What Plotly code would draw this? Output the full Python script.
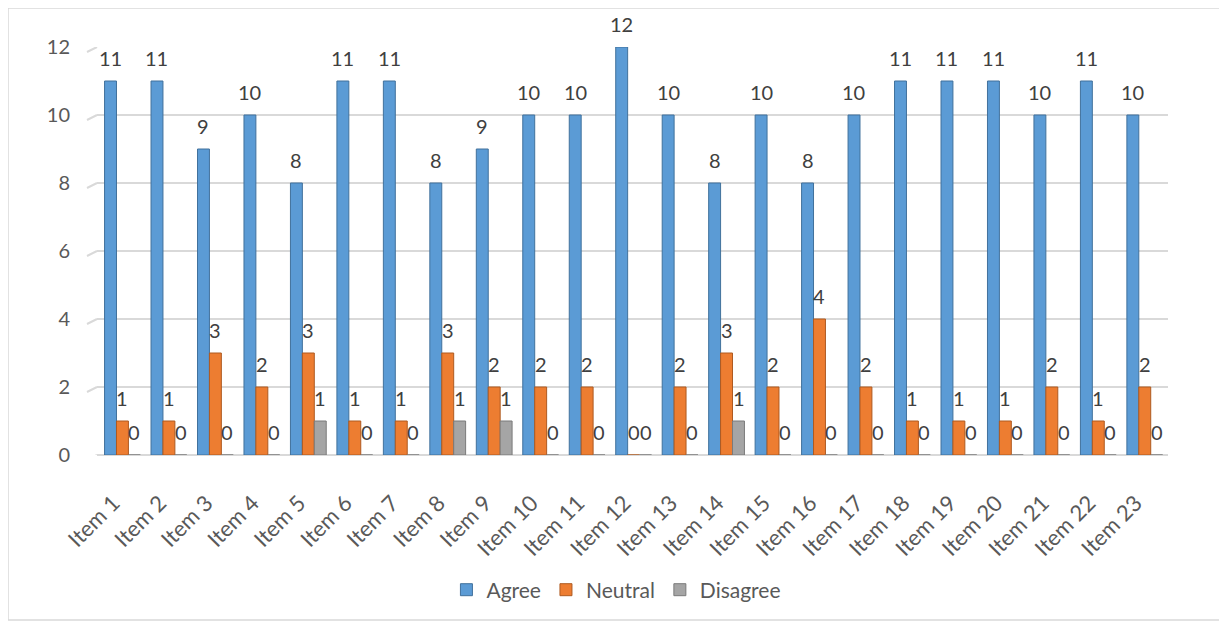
import plotly.graph_objects as go

categories = [f"Item {i}" for i in range(1, 24)]
agree = [11, 11, 9, 10, 8, 11, 11, 8, 9, 10, 10, 12, 10, 8, 10, 8, 10, 11, 11, 11, 10, 11, 10]
neutral = [1, 1, 3, 2, 3, 1, 1, 3, 2, 2, 2, 0, 2, 3, 2, 4, 2, 1, 1, 1, 2, 1, 2]
disagree = [0, 0, 0, 0, 1, 0, 0, 1, 1, 0, 0, 0, 0, 1, 0, 0, 0, 0, 0, 0, 0, 0, 0]
y_ticks = [0, 2, 4, 6, 8, 10, 12]

series = [
    ("Agree", agree, "#5B9BD5", "#41719C"),
    ("Neutral", neutral, "#ED7D31", "#AE5A21"),
    ("Disagree", disagree, "#A5A5A5", "#7B7B7B"),
]

W, H = 1227, 624
ML, MR, MT, MB = 89, 67, 39, 177
BARGAP = 0.23
plot_w = W - ML - MR
plot_h = H - MT - MB
cat_px = plot_w / len(categories)
bar_px = cat_px * (1 - BARGAP) / len(series)
unit_px = plot_h / 12.0

font_family = "Lato, 'Open Sans', sans-serif"
fig = go.Figure()
annotations = []
for k, (name, vals, col, edge) in enumerate(series):
    fig.add_trace(go.Bar(
        x=categories, y=vals, name=name,
        marker=dict(color=col, line=dict(color=edge, width=1)),
        cliponaxis=False,
    ))
    for cat, v in zip(categories, vals):
        annotations.append(dict(
            x=cat, y=v, xref="x", yref="y", text=str(v), showarrow=False,
            xshift=(k - 1) * bar_px, yshift=23, yanchor="middle", xanchor="center",
            font=dict(size=20, color="#404040", family=font_family),
        ))

shapes = [dict(type="rect", xref="paper", yref="paper",
               x0=-0.0831, x1=1.0532, y0=-0.4044, y1=1.0956,
               line=dict(color="#D9D9D9", width=1.5), fillcolor="rgba(0,0,0,0)",
               layer="below")]
# small slanted 3D-style ends of the gridlines on the left wall
for t in y_ticks:
    shapes.append(dict(type="line", xref="paper", yref="y",
                       x0=-10 / plot_w, y0=t - 5 / unit_px, x1=0, y1=t,
                       line=dict(color="#D9D9D9", width=2), layer="below"))

fig.update_layout(
    width=W, height=H,
    margin=dict(l=ML, r=MR, t=MT, b=MB, autoexpand=False),
    paper_bgcolor="white", plot_bgcolor="white",
    barmode="group", bargap=BARGAP, bargroupgap=0,
    font=dict(family=font_family, color="#595959", size=19),
    showlegend=True,
    legend=dict(orientation="h", x=0.485, xanchor="center", y=-0.331, yanchor="middle",
                font=dict(size=21, color="#595959"), traceorder="normal"),
    xaxis=dict(tickangle=-45, tickfont=dict(size=22, color="#595959"), showgrid=False,
               showline=False, ticks="", automargin=False,
               ticklabelstandoff=30, ticklabelshift=-9),
    yaxis=dict(range=[0, 12], tickvals=y_ticks, showgrid=True, gridcolor="#D9D9D9",
               gridwidth=2, zeroline=True, zerolinecolor="#D9D9D9", zerolinewidth=2,
               tickfont=dict(size=20, color="#595959"), ticklabelstandoff=26,
               showline=False, automargin=False),
    annotations=annotations,
    shapes=shapes,
)

fig.write_html("out.html")
